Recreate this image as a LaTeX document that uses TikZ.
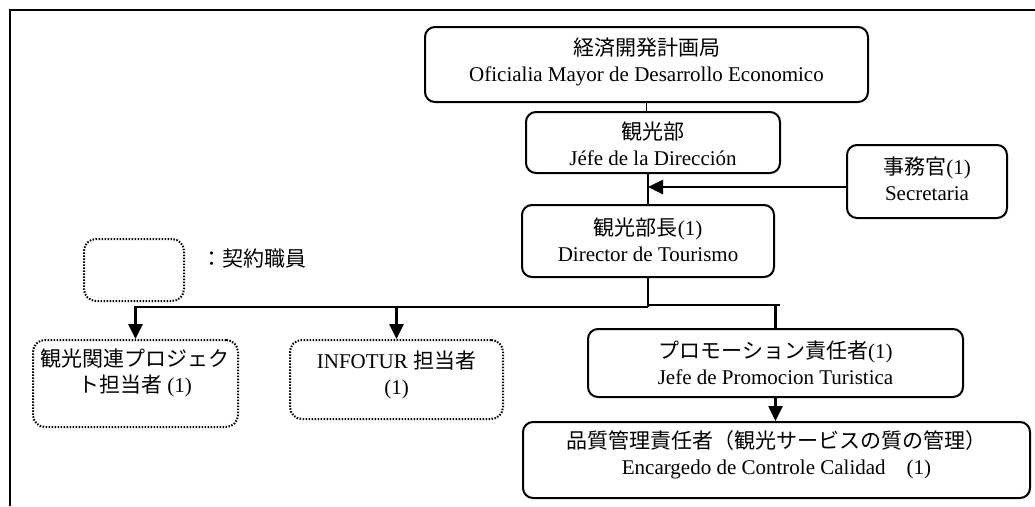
\documentclass[tikz,border=0pt]{standalone}
\usepackage{fontspec}
\setmainfont{Liberation Serif}
\newfontfamily\jpfont{Noto Sans CJK JP}
\newcommand{\J}[1]{{\jpfont #1}}
\usetikzlibrary{arrows.meta}
\begin{document}
\begin{tikzpicture}[x=1pt,y=-1pt,
  box/.style={draw, line width=2pt, rounded corners=10pt, inner sep=0pt},
  dotbox/.style={draw, line width=2pt, dash pattern=on 1.5pt off 1.5pt, rounded corners=12pt, inner sep=0pt},
  lbl/.style={align=center, font=\fontsize{21}{26}\selectfont, inner sep=0pt},
  conn/.style={line width=1.6pt},
  bold/.style={line width=2.6pt},
  arr/.style={bold, -{Triangle[length=15pt,width=14pt]}}]
\useasboundingbox (0,0) rectangle (1035,506);
% frame
\draw[line width=1.8pt] (10,506) -- (10,10) -- (1035,10);
% boxes
\node[box, minimum width=443pt, minimum height=75pt] (top) at (646.5,64.5) {};
\node[box, minimum width=254pt, minimum height=61pt] (b2) at (653,142.5) {};
\node[box, minimum width=252pt, minimum height=72pt] (b3) at (648,241) {};
\node[box, minimum width=160pt, minimum height=73pt] (sec) at (927,181.5) {};
\node[box, minimum width=375pt, minimum height=68pt] (b4) at (775.5,363) {};
\node[box, minimum width=507pt, minimum height=76pt] (b5) at (776.5,460) {};
\node[dotbox, minimum width=205pt, minimum height=87pt] (L1) at (135.5,383.5) {};
\node[dotbox, minimum width=213pt, minimum height=79pt] (L2) at (396.5,379.5) {};
\node[dotbox, minimum width=100pt, minimum height=62pt] (leg) at (134,270) {};
% texts
\node[lbl] (tTop) at (646.5,61.5) {\J{経済開発計画局}\\Oficialia Mayor de Desarrollo Economico};
\node[lbl] (tb2) at (653,143.5) {\J{観光部}\\Jéfe de la Dirección};
\node[lbl] (tb3) at (648,239.5) {\J{観光部長}(1)\\Director de Tourismo};
\node[lbl] (tsec) at (927,178.5) {\J{事務官}(1)\\Secretaria};
\node[lbl] (tb4) at (775.5,362.5) {\J{プロモーション責任者}(1)\\Jefe de Promocion Turistica};
\node[lbl] (tb5) at (776.5,455) {\J{品質管理責任者（観光サービスの質の管理）}\\Encargedo de Controle Calidad\quad(1)};
\node[lbl] (tL1) at (135,373) {\J{観光関連プロジェク}\\\J{ト担当者} (1)};
\node[lbl] (tL2) at (396.5,375) {INFOTUR \J{担当者}\\(1)};
\node[lbl, anchor=west] (tleg) at (201,259) {\J{：契約職員}};
% connectors
\draw[conn] (top.south) -- (top.south |- b2.north);
\draw[conn] (b3.north |- b2.south) -- (b3.north);
\coordinate (sa) at ([yshift=-5.5pt]sec.west);
\draw[arr] (sa) -- (sa -| b3.north);
\coordinate (bus) at (648,307);
\coordinate (bus2) at (648,305);
\draw[bold] (b3.south) -- (bus);
\draw[arr] (bus) -| (L1.north);
\draw[arr] (bus -| L2.north) -- (L2.north);
\draw[conn] (bus2) -- (b4.north |- bus2) -- ++(4,0);
\draw[bold] (b4.north |- bus2) -- (b4.north);
\draw[arr] (b4.south) -- (b4.south |- b5.north);
\end{tikzpicture}
\end{document}
